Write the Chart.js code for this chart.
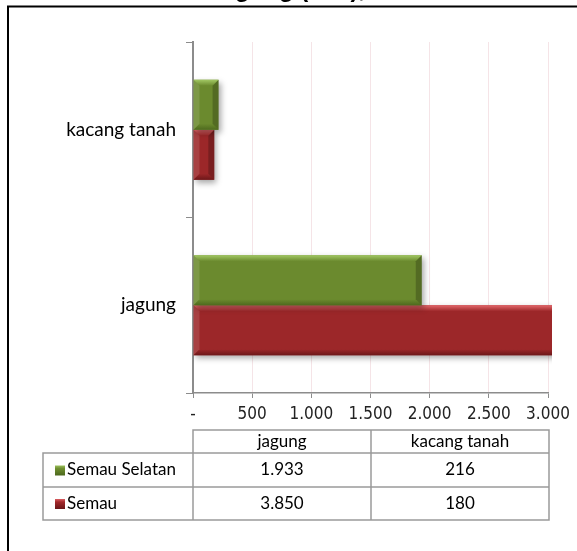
<!DOCTYPE html>
<html><head><meta charset="utf-8">
<script src="https://cdn.jsdelivr.net/npm/chart.js@4.4.0/dist/chart.umd.min.js"></script>
<style>
html,body{margin:0;padding:0;background:#fff;overflow:hidden;}
#wrap{position:relative;width:577px;height:551px;overflow:hidden;}
#title{position:absolute;left:0;width:584px;text-align:center;top:-53px;font:bold 24px "Liberation Sans",Arial,sans-serif;line-height:28px;color:#000;white-space:nowrap;}
canvas{position:absolute;left:0;top:0;}
</style></head>
<body><div id="wrap"><canvas id="c" width="577" height="551"></canvas><div id="title">Produksi Kacang Tanah<br>dan Jagung (Ton), 2013</div></div>
<script>
const categories = ['jagung', 'kacang tanah'];
const seriesNames = ['Semau Selatan', 'Semau'];
const semauSelatan = [1933, 216];
const semau = [3850, 180];
const xTicks = [0, 500, 1000, 1500, 2000, 2500, 3000];
const xTickLabels = ['-', '500', '1.000', '1.500', '2.000', '2.500', '3.000'];

const seriesColors = [
  {base:'#6b8a2e', light:'#a2c864', dark:'#4e6a1e', key:'#6f8f30'},
  {base:'#9c2729', light:'#e4686c', dark:'#6c1719', key:'#a3282b'}
];
const fmt = v => String(v).replace(/\B(?=(\d{3})+(?!\d))/g, '.');
const tableFont = '17px Lato, "Open Sans", sans-serif';

const framePlugin = {
  id:'frame',
  beforeDraw(chart){
    const c = chart.ctx;
    c.save();
    c.strokeStyle = '#000'; c.lineWidth = 2;
    c.beginPath();
    c.moveTo(8, 551); c.lineTo(8, 6.5); c.lineTo(577, 6.5);
    c.stroke();
    c.restore();
  }
};

const bevelPlugin = {
  id:'bevel',
  beforeDatasetDraw(chart){
    const c = chart.ctx;
    c.save();
    c.shadowColor = 'rgba(0,0,0,0.35)';
    c.shadowBlur = 6; c.shadowOffsetX = 2; c.shadowOffsetY = 3;
  },
  afterDatasetDraw(chart, args){
    const c = chart.ctx;
    c.restore();
    const col = seriesColors[args.index];
    const a = chart.chartArea;
    c.save();
    c.beginPath();
    c.rect(a.left, a.top, a.right - a.left + 4, a.bottom - a.top);
    c.clip();
    args.meta.data.forEach(el => {
      const p = el.getProps(['x','y','base','height'], true);
      const L = Math.min(p.x, p.base), R = Math.max(p.x, p.base);
      const T = p.y - p.height/2, B = p.y + p.height/2;
      const b = 6;
      const poly = (pts, fill) => {
        c.beginPath(); c.moveTo(pts[0][0], pts[0][1]);
        for (let i = 1; i < pts.length; i++) c.lineTo(pts[i][0], pts[i][1]);
        c.closePath(); c.fillStyle = fill; c.fill();
      };
      const gT = c.createLinearGradient(0, T, 0, T + b);
      gT.addColorStop(0, col.light); gT.addColorStop(1, col.base);
      const gB = c.createLinearGradient(0, B - b, 0, B);
      gB.addColorStop(0, col.base); gB.addColorStop(1, col.dark);
      poly([[L,T],[R,T],[R-b,T+b],[L+b,T+b]], gT);
      poly([[L,B],[R,B],[R-b,B-b],[L+b,B-b]], gB);
      poly([[L,T],[L+b,T+b],[L+b,B-b],[L,B]], 'rgba(255,255,255,0.12)');
      poly([[R,T],[R-b,T+b],[R-b,B-b],[R,B]], 'rgba(0,0,0,0.22)');
    });
    c.restore();
  }
};

const tablePlugin = {
  id:'table',
  afterDraw(chart){
    const c = chart.ctx;
    const a = chart.chartArea;
    const L = 43, C1 = Math.round(a.left), R = Math.round(a.right) + 1;
    const C2 = Math.round((C1 + R) / 2);
    const T0 = 430, T1 = 453, T2 = 487, T3 = 520;
    c.save();
    c.strokeStyle = '#9a9a9a'; c.lineWidth = 1.5;
    c.beginPath();
    c.rect(C1, T0, R - C1, T1 - T0);
    c.rect(L, T1, R - L, T3 - T1);
    c.moveTo(C2, T0); c.lineTo(C2, T3);
    c.moveTo(C1, T1); c.lineTo(C1, T3);
    c.moveTo(L, T2); c.lineTo(R, T2);
    c.stroke();
    c.fillStyle = '#000'; c.font = tableFont;
    c.textBaseline = 'middle'; c.textAlign = 'center';
    const cx = [(C1 + C2) / 2, (C2 + R) / 2];
    categories.forEach((cat, i) => c.fillText(cat, cx[i], (T0 + T1) / 2));
    const rows = [semauSelatan, semau];
    const rowMid = [(T1 + T2) / 2, (T2 + T3) / 2];
    rows.forEach((vals, r) => {
      vals.forEach((v, i) => c.fillText(fmt(v), cx[i], rowMid[r]));
      const col = seriesColors[r];
      const g = c.createLinearGradient(0, rowMid[r] - 5, 0, rowMid[r] + 5);
      g.addColorStop(0, col.light); g.addColorStop(0.35, col.key); g.addColorStop(1, col.dark);
      c.fillStyle = g;
      c.fillRect(55, rowMid[r] - 4.5, 10, 10);
      c.fillStyle = '#000'; c.textAlign = 'left';
      c.fillText(seriesNames[r], 67, rowMid[r]);
      c.textAlign = 'center';
    });
    c.restore();
  }
};

new Chart(document.getElementById('c'), {
  type: 'bar',
  data: {
    labels: categories,
    datasets: [
      {label: seriesNames[0], data: semauSelatan, backgroundColor: seriesColors[0].base},
      {label: seriesNames[1], data: semau, backgroundColor: seriesColors[1].base}
    ]
  },
  options: {
    indexAxis: 'y',
    responsive: false,
    animation: false,
    layout: {padding: {left: 0, top: 42, right: 29, bottom: 0}},
    plugins: {legend: {display: false}, tooltip: {enabled: false}, title: {display: false}},
    datasets: {bar: {categoryPercentage: 0.57, barPercentage: 1, borderWidth: 0,
      clip: {left: 0, top: 0, right: 4, bottom: 0}}},
    scales: {
      x: {
        min: 0, max: 3000,
        afterBuildTicks: s => { s.ticks = xTicks.map(v => ({value: v})); },
        ticks: {
          callback: (v, i) => xTickLabels[i],
          font: {family: '"Liberation Sans Narrow", "DejaVu Sans Condensed", sans-serif', size: 17},
          color: '#222', padding: 6, maxRotation: 0, autoSkip: false
        },
        grid: {color: '#f5e4e7', tickColor: '#8c8c8c', tickLength: 5, lineWidth: 1},
        border: {color: '#8c8c8c', width: 1.5},
        afterFit: s => { s.height = 551 - 393; }
      },
      y: {
        reverse: true,
        ticks: {font: {family: 'Lato, "Open Sans", sans-serif', size: 19}, color: '#000', padding: 10},
        grid: {drawOnChartArea: false, color: '#8c8c8c', tickLength: 7, offset: true},
        border: {color: '#8c8c8c', width: 2},
        afterFit: s => { s.width = 193; }
      }
    }
  },
  plugins: [framePlugin, bevelPlugin, tablePlugin]
});
</script>
</body></html>
